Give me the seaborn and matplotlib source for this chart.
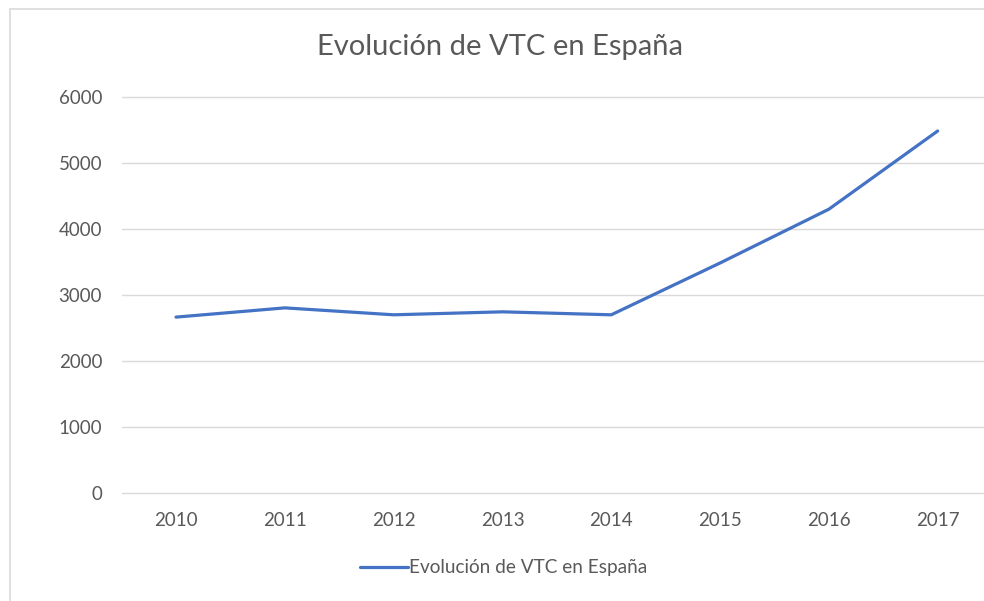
"""Evolucion de VTC en Espana - line chart"""

import matplotlib
matplotlib.use("Agg")
from matplotlib import pyplot as plt
from matplotlib.patches import Rectangle
import numpy as np
import pandas as pd
import seaborn as sns

years = ["2010", "2011", "2012", "2013", "2014", "2015", "2016", "2017"]
vtc = [2665, 2805, 2700, 2745, 2700, 3485, 4300, 5485]
yticks = [0, 1000, 2000, 3000, 4000, 5000, 6000]

title = "Evolución de VTC en España"
series_name = "Evolución de VTC en España"

sns.set_style("white")
plt.rcParams["font.family"] = ["Liberation Sans Narrow", "Lato", "DejaVu Sans"]

df = pd.DataFrame({"year": years, "vtc": vtc})
df["pos"] = np.arange(len(years))

fig = plt.figure(figsize=(9.84, 6.01), dpi=100)
# outer chart frame like the Excel chart area (only top/left edges visible)
fig.patches.append(Rectangle((10 / 984, -0.1), 1.2, 1.1 - 9 / 601, transform=fig.transFigure,
                             fill=False, edgecolor="#d9d9d9", linewidth=1.2))

ax = fig.add_axes([0.1236, 0.1797, 0.8846, 0.6589])
sns.lineplot(df, x="pos", y="vtc", ax=ax, color="#4472C4", linewidth=2.3,
             label=series_name, solid_capstyle="round")

ax.set_xlim(-0.5, len(years) - 0.5)
ax.set_ylim(0, 6000)
ax.set_yticks(yticks)
ax.set_xticks(df["pos"])
ax.set_xticklabels(years)
ax.yaxis.grid(True, color="#d9d9d9", linewidth=1)
for gl in ax.get_ygridlines():
    gl.set_clip_on(False)
ax.set_axisbelow(True)
for s in ax.spines.values():
    s.set_visible(False)
ax.tick_params(axis="both", length=0, labelsize=13.5, colors="#595959")
ax.tick_params(axis="x", pad=14)
ax.tick_params(axis="y", pad=14)
ax.set_xlabel("")
ax.set_ylabel("")

fig.text(0.508, 0.921, title, ha="center", va="center", fontsize=21, color="#595959")

leg = ax.legend(loc="center", frameon=False, fontsize=13.7, handlelength=2.5, handletextpad=0.1)
for t in leg.get_texts():
    t.set_color("#595959")
leg.set_bbox_to_anchor((0.512, 0.055), transform=fig.transFigure)

fig.savefig("out.png", dpi=100)
